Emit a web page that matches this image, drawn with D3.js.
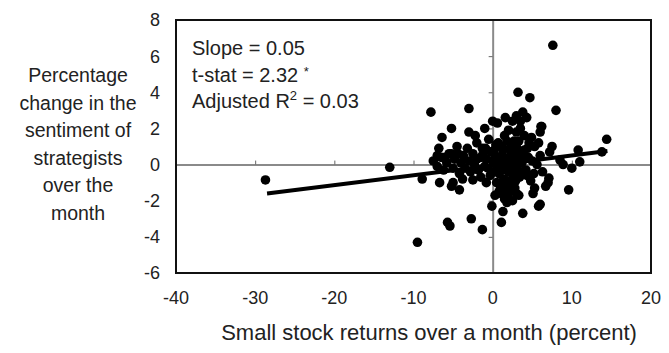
<!DOCTYPE html>
<html>
<head>
<meta charset="utf-8">
<script src="https://cdn.jsdelivr.net/npm/d3@7"></script>
<style>
  body { margin: 0; background: #fff; }
  svg text { font-family: "Liberation Sans", Arial, sans-serif; fill: #222; }
</style>
</head>
<body>
<div id="chart"></div>
<script>
// returns (x) vs sentiment change (y)
var xs = [-28.7, -13.0, -9.5, 7.6, -7.8, -3.0, -5.2, -6.4, 0.6, 3.2, 4.7, -3.0, 3.0, 4.3, 8.0, 6.1, 6.0, 14.4,
  7.5, 10.8, 13.8, 11.0, 10.0, 8.9, 8.5, 7.1, 6.7, 5.3, 5.1, 9.6, 5.8, 3.8, -8.9, -6.7, -5.2, -4.2, -2.5, -0.8,
  -0.1, -5.7, -5.4, -2.7, -1.3, 1.1, 1.3, 1.8, 2.5, 0.3, 1.1, 3.0, 3.0, 4.9, 6.2, 7.2, 7.0, 6.0, -5.0, 3.5, 3.8,
  -7.5, -7, -6.5, -6.2, -5.8, -5.5, -5, -4.8, -4.5, -4.2, -4, -3.7, -3.5, -3.2, -3, -2.8, -2.5, -2.3, -2, -1.8,
  -1.5, -1.3, -1, -0.8, -0.5, -0.3, 0, 0.2, 0.5, 0.7, 1, 1.2, 1.4, 1.5, 1.8, 2, 2.2, 2.4, 2.5, 2.7, 3, 3.2, 3.4,
  3.5, 3.7, 4, 4.2, 4.5, 4.8, 5, 5.3, 5.6, 6, 6.3, 2.0, 1.0, 0.5, 2.8, 3.3, 2.0, 1.5, 0.8, -1.5, -3.8, -6.8,
  -2.2, 0.0, -1.0, 1.6, 2.5, 4.0, 3.0, -0.2, 4.6, 5.8, 1.2, -5.2,
  0.3, 0.8, 1.3, 1.7, 2.1, 2.6, 3.1, 3.6, 0.1, 0.6, 1.1, 1.9, 2.3, 2.9, 3.3, 3.9, 4.3, -0.6, -1.2, -2.0,
  0.4, 1.6, 2.6, 2.1, 1.4, 0.9, 2.9, 3.6, -0.9, 1.8, 2.3, 4.4, 5.2, -4.4, -6.0, -7.0];
var ys = [-0.85, -0.15, -4.3, 6.6, 2.9, 3.1, 2.0, 1.5, 2.3, 4.0, 3.7, 1.8, 2.7, 2.6, 3.0, 2.1, 1.8, 1.4,
  1.0, 0.8, 0.7, 0.15, -0.2, 0.0, 0.25, -0.75, -1.2, -1.3, -1.6, -1.4, -2.3, -2.7, -0.8, -1.0, -1.2, -1.4, -0.85, -1.0,
  -2.3, -3.2, -3.4, -3.0, -3.6, -3.2, -2.6, -2.1, -2.0, -1.7, -1.6, -1.6, 1.8, 1.5, 2.1, 0.7, -1.0, -2.2, -1.0, 2.4, 2.9,
  0.2, -0.1, 0.4, -0.3, 0.1, 0.6, -0.2, 0.3, 1.0, -0.5, 0.1, 0.5, -0.2, 0.9, 0.2, -0.4, 0.6, 0.0, 1.2, -0.3,
  0.4, 0.9, -0.1, 0.3, 1.4, -0.6, 0.2, 0.8, -0.3, 1.2, 0.0, 0.5, -0.8, 1.6, 0.2, -0.4, 0.9, -1.1, 0.3, 1.3, -0.2, 0.6, -0.7,
  2.0, 0.1, 0.8, -0.3, 0.4, -0.9, 0.2, 1.0, 0.0, 0.5, -0.4, 1.9, -1.3, -1.0, -1.3, -1.7, -1.6, -1.9, -1.5, -0.7, -0.8, 0.9,
  1.6, 2.4, 2.0, 2.6, 2.4, 1.6, 0.0, 0.7, 1.2, 1.2, -0.3, 0.6,
  0.5, -0.5, 0.8, -0.2, 0.4, -0.6, 0.9, -0.4, -0.4, 0.1, 1.0, -0.9, 0.7, 0.3, 1.3, 0.3, -0.6, -0.2, 0.6, 0.3,
  1.1, 0.0, 1.0, -1.3, -1.2, 0.4, -0.9, 0.6, 0.9, 1.3, -0.1, 0.9, -0.5, 0.6, 0.4, 0.5];

// regression line end points
var fitX = [-28.5, 14.5];
var fitY = [-1.6, 0.75];

var xTicks = [-40, -30, -20, -10, 0, 10, 20];
var yTicks = [-6, -4, -2, 0, 2, 4, 6, 8];
var yTitle = ["Percentage", "change in the", "sentiment of", "strategists", "over the", "month"];
var xTitle = "Small stock returns over a month (percent)";

var width = 669, height = 353;
// plot frame (pixels)
var plotL = 176, plotR = 651, plotT = 20, plotB = 273;

var svg = d3.select("#chart").append("svg")
  .attr("width", width)
  .attr("height", height);

var x = d3.scaleLinear().domain([-40, 20]).range([plotL, plotR]);
var y = d3.scaleLinear().domain([-6, 8]).range([plotB, plotT]);

// zero lines with small ticks
svg.append("g")
  .attr("transform", "translate(0," + y(0) + ")")
  .call(d3.axisTop(x).tickValues(xTicks.slice(1, -1)).tickSize(4).tickFormat("").tickSizeOuter(0))
  .call(function(g) {
    g.select(".domain").attr("stroke", "#8a8a8a").attr("stroke-width", 2);
    g.selectAll(".tick line").attr("stroke", "#666");
  });

svg.append("g")
  .attr("transform", "translate(" + x(0) + ",0)")
  .call(d3.axisLeft(y).tickValues(yTicks.slice(1, -1)).tickSize(4).tickFormat("").tickSizeOuter(0))
  .call(function(g) {
    g.select(".domain").attr("stroke", "#8a8a8a").attr("stroke-width", 2);
    g.selectAll(".tick line").attr("stroke", "#666");
  });

// frame
svg.append("rect")
  .attr("x", plotL).attr("y", plotT)
  .attr("width", plotR - plotL).attr("height", plotB - plotT)
  .attr("fill", "none")
  .attr("stroke", "#111")
  .attr("stroke-width", 2);

// dots
svg.append("g").selectAll("circle")
  .data(d3.range(xs.length))
  .enter().append("circle")
  .attr("cx", function(i) { return x(xs[i]); })
  .attr("cy", function(i) { return y(ys[i]); })
  .attr("r", 4.8)
  .attr("fill", "#000");

// fitted line
svg.append("line")
  .attr("x1", x(fitX[0])).attr("y1", y(fitY[0]))
  .attr("x2", x(fitX[1])).attr("y2", y(fitY[1]))
  .attr("stroke", "#000")
  .attr("stroke-width", 4);

// tick labels
svg.append("g").selectAll("text")
  .data(yTicks)
  .enter().append("text")
  .attr("x", plotL - 16)
  .attr("y", function(d) { return y(d); })
  .attr("dy", "0.36em")
  .attr("text-anchor", "end")
  .style("font-size", "18px")
  .text(function(d) { return d; });

svg.append("g").selectAll("text")
  .data(xTicks)
  .enter().append("text")
  .attr("x", function(d) { return x(d); })
  .attr("y", 298)
  .attr("dy", "0.36em")
  .attr("text-anchor", "middle")
  .style("font-size", "18px")
  .text(function(d) { return d; });

// axis titles
svg.append("text")
  .attr("x", 429)
  .attr("y", 332)
  .attr("dy", "0.36em")
  .attr("text-anchor", "middle")
  .style("font-size", "22px")
  .text(xTitle);

svg.append("g").selectAll("text")
  .data(yTitle)
  .enter().append("text")
  .attr("x", 78)
  .attr("y", function(d, i) { return 75 + i * 27.5; })
  .attr("dy", "0.36em")
  .attr("text-anchor", "middle")
  .style("font-size", "19.5px")
  .text(function(d) { return d; });

// stats box text
var stats = svg.append("text")
  .attr("x", 192)
  .style("font-size", "20px");
stats.append("tspan").attr("x", 192).attr("y", 55).text("Slope = 0.05");
stats.append("tspan").attr("x", 192).attr("y", 82).text("t-stat = 2.32 ");
stats.append("tspan").attr("dy", -6).style("font-size", "13px").text("*");
stats.append("tspan").attr("x", 192).attr("y", 108).text("Adjusted R");
stats.append("tspan").attr("dy", -8).style("font-size", "13px").text("2");
stats.append("tspan").attr("dy", 8).text(" = 0.03");
</script>
</body>
</html>
